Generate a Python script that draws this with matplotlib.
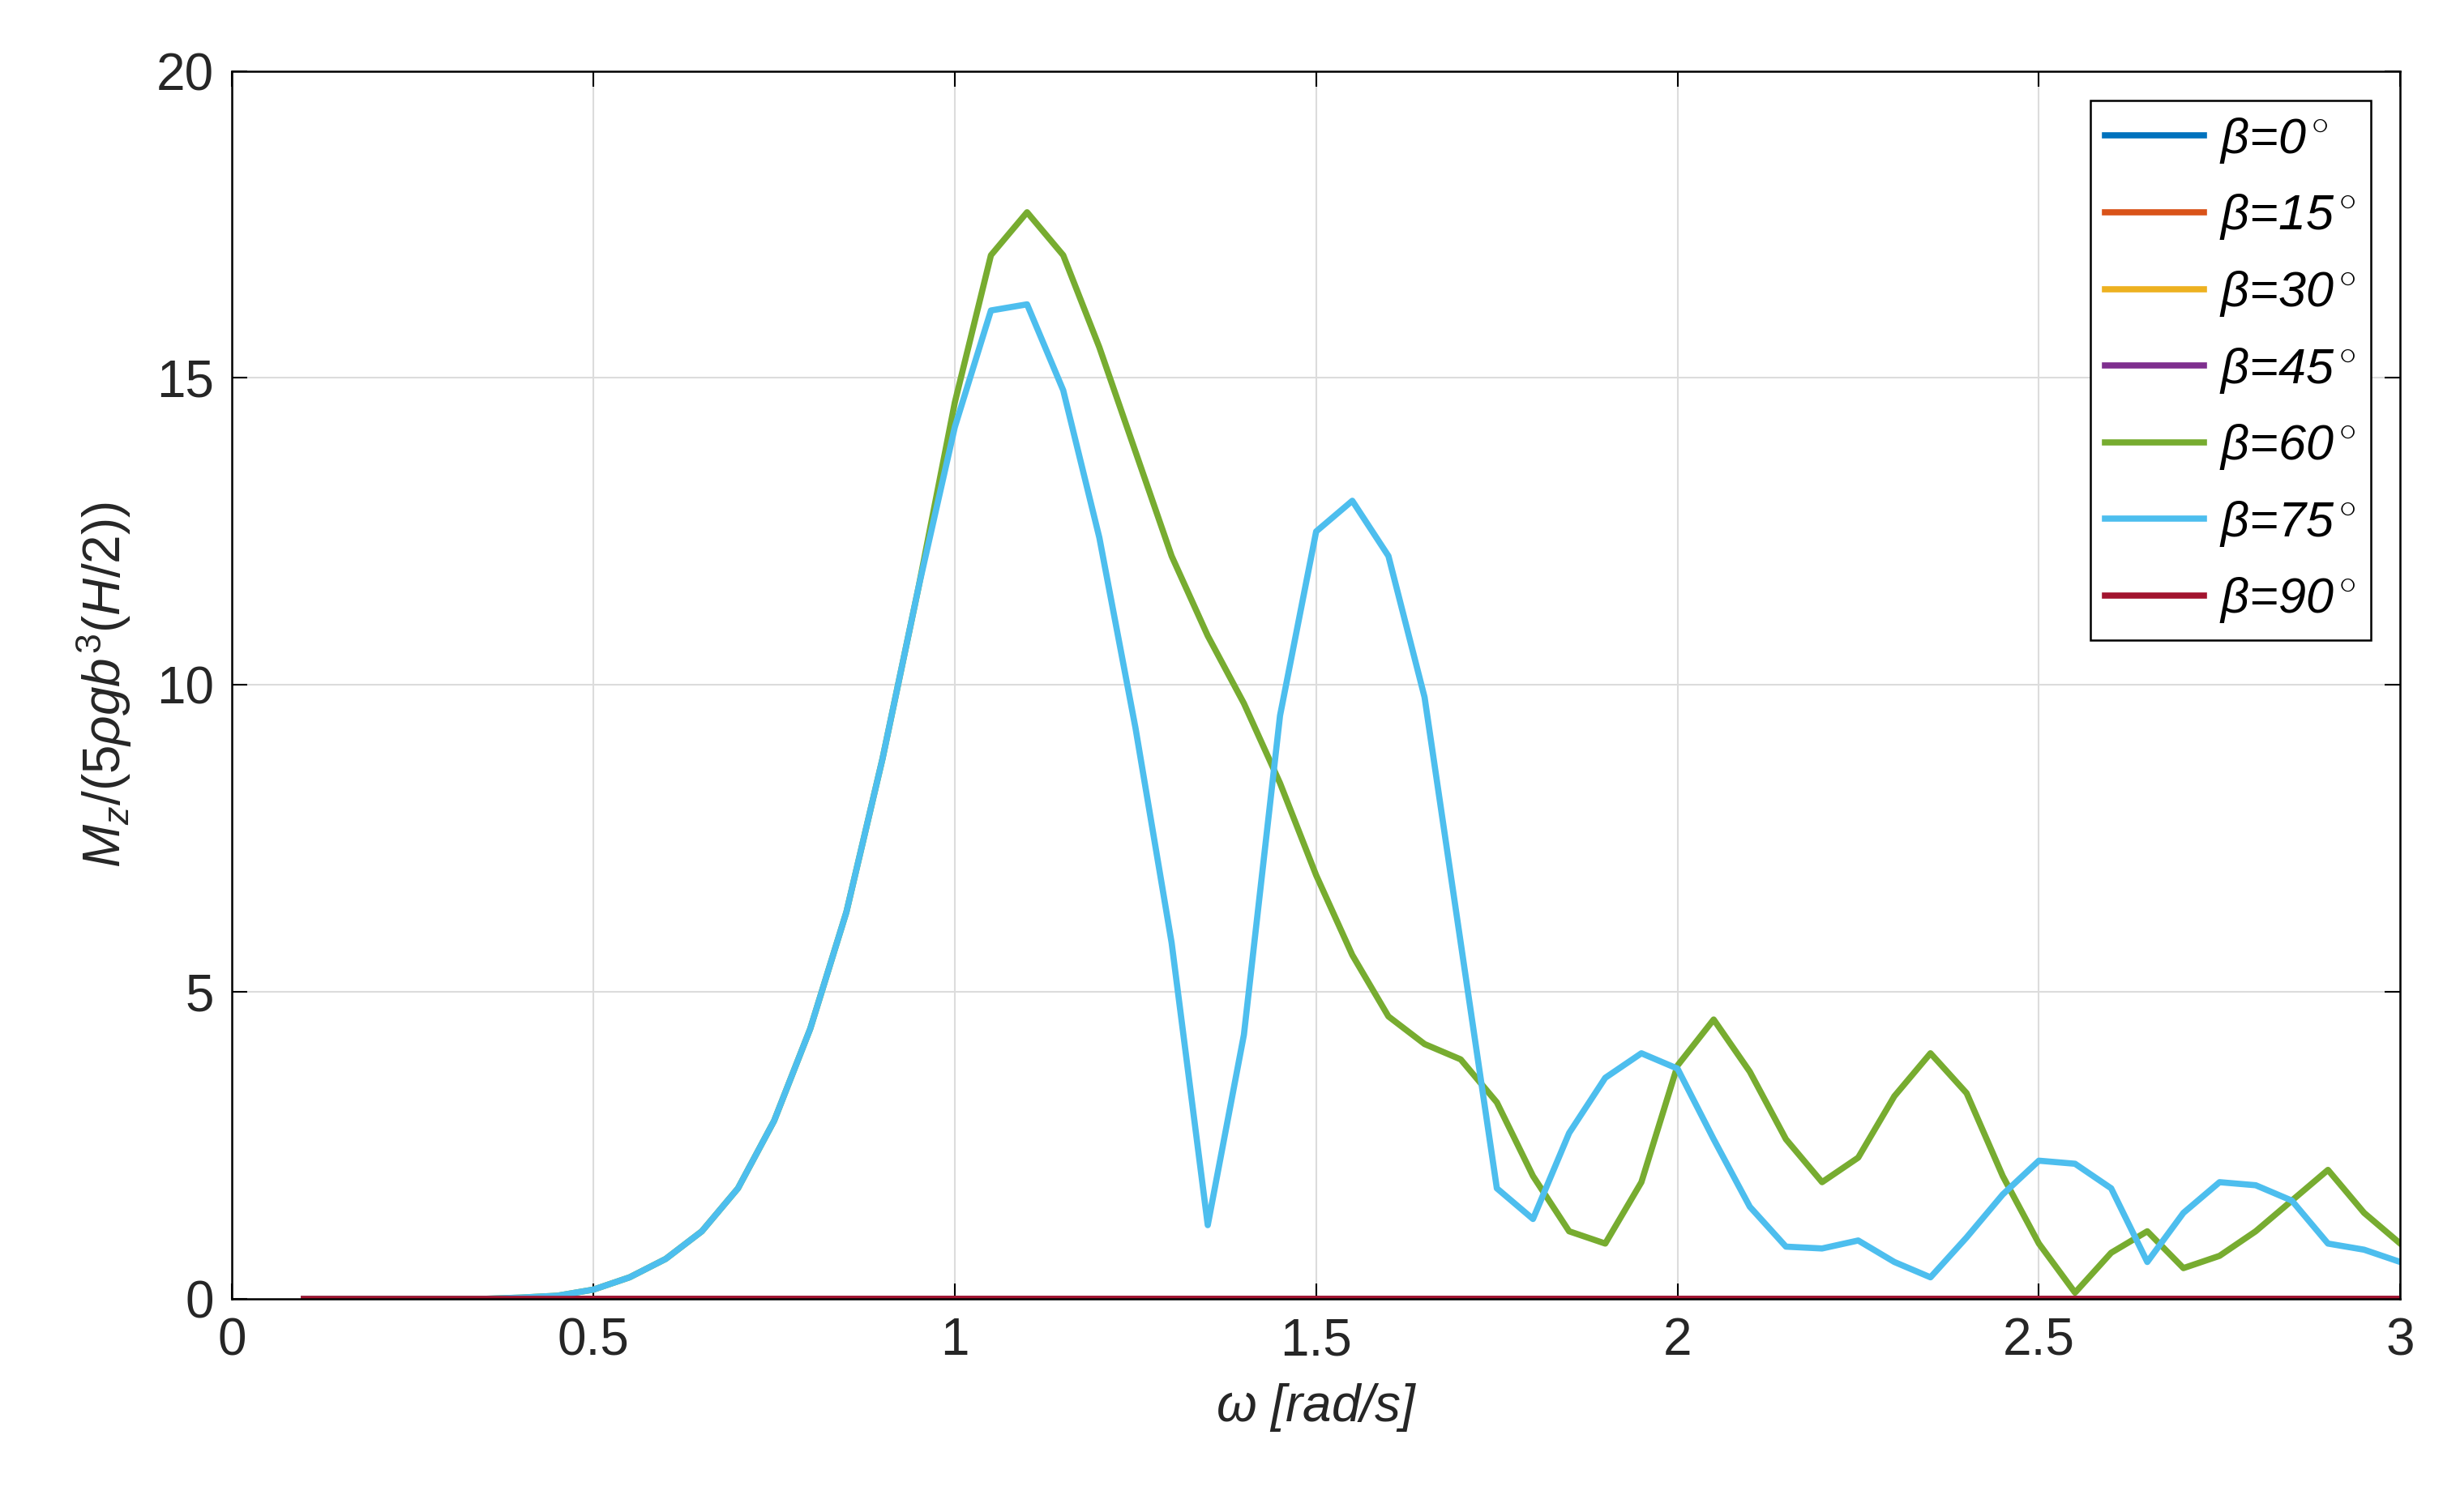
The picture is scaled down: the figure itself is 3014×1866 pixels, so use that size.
import numpy as np
import matplotlib
matplotlib.use("Agg")
import matplotlib.pyplot as plt

plt.rcParams['font.family'] = ['Liberation Sans', 'DejaVu Sans']
plt.rcParams['mathtext.fontset'] = 'custom'
plt.rcParams['mathtext.it'] = 'Liberation Sans:italic'
plt.rcParams['mathtext.rm'] = 'Liberation Sans'

omega = np.round(np.arange(0.1, 3.0001, 0.05), 2)
betas = [0, 15, 30, 45, 60, 75, 90]
colors = ["#0072BD", "#D95319", "#EDB120", "#7E2F8E", "#77AC30", "#4DBEEE", "#A2142F"]

common = [0, 0, 0, 0, 0, 0, 0.02, 0.05, 0.15, 0.35, 0.65, 1.1, 1.8, 2.9, 4.4, 6.3, 8.8, 11.6]
b75 = common + [14.2, 16.1, 16.2, 14.8, 12.4, 9.3, 5.8, 1.2, 4.3, 9.5, 12.5, 13.0, 12.1, 9.8, 5.8,
                1.8, 1.3, 2.7, 3.6, 4.0, 3.75, 2.6, 1.5, 0.85, 0.82, 0.95, 0.6, 0.35, 1.0, 1.7,
                2.25, 2.2, 1.8, 0.6, 1.4, 1.9, 1.85, 1.6, 0.9, 0.8, 0.6]
b60 = common + [14.6, 17.0, 17.7, 17.0, 15.5, 13.8, 12.1, 10.8, 9.7, 8.4, 6.9, 5.6, 4.6, 4.15, 3.9,
                3.2, 2.0, 1.1, 0.9, 1.9, 3.8, 4.55, 3.7, 2.6, 1.9, 2.3, 3.3, 4.0, 3.35, 2.0,
                0.9, 0.1, 0.75, 1.1, 0.5, 0.7, 1.1, 1.6, 2.1, 1.4, 0.9]
zeros = [0.0] * len(omega)
series = [zeros, zeros, zeros, zeros, b60, b75, zeros]

fig = plt.figure(figsize=(30.14, 18.66), dpi=100)
ax = fig.add_axes([0.095, 0.141, 0.8875, 0.812])
for b, c, y in zip(betas, colors, series):
    ax.plot(omega, y, color=c, lw=5.5, label=r"$\beta$=%d$^\circ$" % b)

ax.set_xlim(0, 3)
ax.set_ylim(0, 20)
ax.set_xticks([0, 0.5, 1, 1.5, 2, 2.5, 3])
ax.set_xticklabels(["0", "0.5", "1", "1.5", "2", "2.5", "3"])
ax.set_yticks([0, 5, 10, 15, 20])
ax.grid(True, color="#dcdcdc", lw=1.5)
ax.tick_params(direction="in", top=True, right=True, labelsize=46, length=14, width=1.5, pad=16,
               labelcolor="#262626")
for s in ax.spines.values():
    s.set_linewidth(1.8)
ax.set_xlabel(r"$\omega$ [rad/s]", fontsize=46, style="italic", color="#262626", labelpad=14)
ax.set_ylabel(r"$M_z/(5\rho g b^3(H/2))$", fontsize=46, color="#262626", labelpad=20)
leg = ax.legend(loc="upper right", prop={"style": "italic", "size": 44},
                fancybox=False, edgecolor="black", framealpha=1, handlelength=2.0,
                handletextpad=0.3, labelspacing=0.55, borderaxespad=0.6, borderpad=0.3)
leg.get_frame().set_linewidth(1.8)
fig.savefig("out.png", dpi=100)
